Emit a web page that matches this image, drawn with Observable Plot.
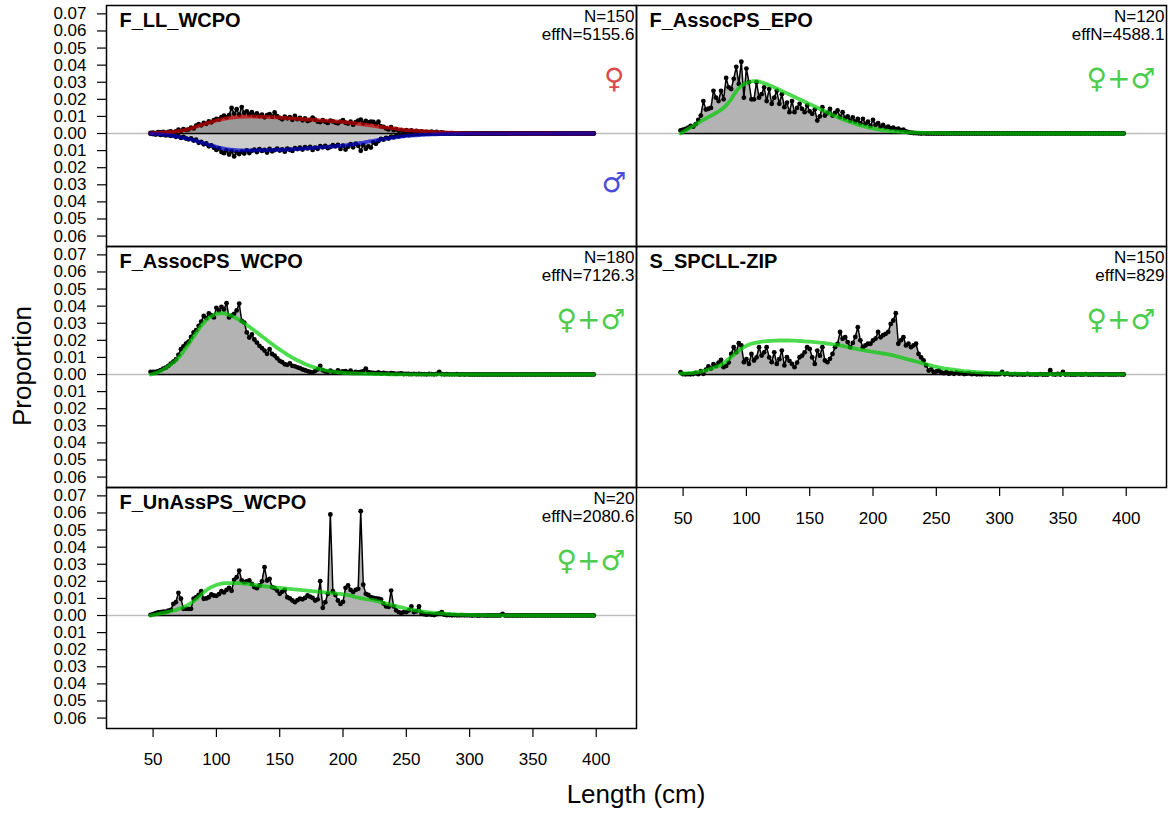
<!DOCTYPE html>
<html><head><meta charset="utf-8">
<script src="https://cdn.jsdelivr.net/npm/d3@7"></script>
<script src="https://cdn.jsdelivr.net/npm/@observablehq/plot@0.6"></script>
<style>
html,body{margin:0;padding:0;background:#fff;}
#wrap{position:relative;width:1172px;height:815px;overflow:hidden;font-family:"Liberation Sans",Arial,sans-serif;}
.pnl{position:absolute;}
.pnl svg{overflow:visible;display:block;}
.axlab{position:absolute;font-size:26px;line-height:1;white-space:nowrap;color:#000;}
</style></head>
<body><div id="wrap"></div>
<script>
// Length bins (cm), 2-cm bins
const bins = d3.range(48, 399, 2);
// All proportions below are in thousandths (per-mille); UNIT converts them.
const UNIT = 0.001;

// ---- F_LL_WCPO : females (up) and males (down)
const llFemObs = [0.3,0.5,0.2,0.8,0.6,1.0,0.4,0.9,1.2,0.7,1.3,2.2,1.5,2.6,2.0,2.4,3.4,3.0,4.6,5.5,4.8,6.2,5.7,7.1,6.6,7.8,
 8.5,8.2,9.6,10.4,9.5, 10.8,15.0,11.5,14.2,10.9, 15.5,12.0,13.0,11.2,12.5, 10.6,11.8,10.2,11.0,9.5, 10.8,11.4,9.8,12.3,10.1,
 9.2,8.3,9.9,8.9,9.6, 8.0,10.3,8.4,9.1,7.7, 8.8,7.3,7.9,9.3,8.1, 7.0,6.7,7.8,6.9,6.2, 7.6,7.1,6.4,6.0,7.0,
 7.8,6.3,5.8,6.9,5.2, 6.6,7.5,8.1,6.0,7.4, 6.5,7.0,6.8,5.5,6.9, 4.2,3.9,3.0,2.4,3.7, 2.0,2.5,1.6,1.9,1.2,
 2.0,1.4,1.8,1.0,1.5, 0.9,1.3,0.8,1.0,0.6, 1.1,0.5,0.9,0.3,0.6, 0.3,0.2,0.1,0.2,0.1, 0.1,0,0.1,0,0,
 0,0,0,0,0,0,0,0,0,0, 0,0,0,0,0,0,0,0,0,0, 0,0,0,0,0,0,0,0,0,0, 0,0,0,0,0,0,0,0,0,0, 0,0,0,0,0,0,0,0,0,0];
const llFemExp = [0.1,0.2,0.3,0.4,0.5,0.6,0.7,0.8,0.9,1.0,1.2,1.4,1.6,1.9,2.2,2.6,3.0,3.5,4.0,4.5,5.0,5.4,5.9,6.4,6.8,7.2,
 7.6,8.0,8.3,8.6,8.9, 9.1,9.3,9.5,9.6,9.7, 9.8,9.9,9.9,9.9,9.9, 9.9,9.8,9.8,9.8,9.7, 9.7,9.6,9.6,9.5,9.4,
 9.3,9.2,9.1,9.0,8.9, 8.8,8.7,8.6,8.5,8.4, 8.3,8.2,8.1,8.0,7.9, 7.8,7.7,7.6,7.5,7.4, 7.3,7.2,7.1,7.0,6.9,
 6.7,6.6,6.4,6.3,6.1, 5.9,5.7,5.5,5.3,5.1, 4.9,4.7,4.5,4.3,4.1, 3.9,3.7,3.5,3.4,3.2, 3.0,2.8,2.6,2.4,2.2,
 2.0,1.9,1.8,1.7,1.6, 1.5,1.4,1.3,1.2,1.1, 1.0,0.9,0.8,0.75,0.7, 0.6,0.55,0.5,0.45,0.4, 0.35,0.3,0.27,0.24,0.2,
 0.18,0.16,0.14,0.12,0.1,0.09,0.08,0.07,0.06,0.05, 0.05,0.04,0.04,0.03,0.03,0.03,0.02,0.02,0.02,0.02,
 0.02,0.01,0.01,0.01,0.01,0.01,0.01,0.01,0.01,0.01, 0.01,0.01,0.01,0.01,0.01,0,0,0,0,0, 0,0,0,0,0,0,0,0,0,0];
const llMalObs = [0.2,0.3,0.6,0.3,0.8,0.5,1.1,0.9,1.4,1.0,1.9,1.5,2.6,2.0,2.9,3.4,2.8,4.1,3.6,5.4,4.9,6.3,5.8,7.5,6.9,8.3,
 9.6,8.7,10.8,11.5,9.9, 12.3,10.4,13.4,11.0,12.0, 10.6,11.7,9.9,11.4,10.1, 9.5,10.8,9.2,10.2,9.6, 11.1,9.0,10.4,9.7,8.9,
 10.0,9.3,10.6,8.8,9.5, 10.2,8.6,9.1,8.2,9.4, 8.0,8.7,7.8,9.6,8.3, 8.9,7.4,8.1,7.2,8.6, 7.9,6.8,7.5,6.6,9.0,
 7.1,9.4,7.7,6.2,8.1, 5.9,7.2,10.1,6.8,8.9, 7.5,8.2,5.2,6.0,4.4, 3.1,3.6,2.5,2.9,1.8, 2.2,1.4,1.7,1.0,1.2,
 0.7,0.9,0.5,0.6,0.3, 0.4,0.2,0.3,0.1,0.1, 0,0.1,0,0,0, 0,0,0,0,0, 0,0,0,0,0,
 0,0,0,0,0,0,0,0,0,0, 0,0,0,0,0,0,0,0,0,0, 0,0,0,0,0,0,0,0,0,0, 0,0,0,0,0,0,0,0,0,0, 0,0,0,0,0,0,0,0,0,0];
const llMalExp = [0.1,0.2,0.3,0.4,0.5,0.7,0.8,1.0,1.2,1.4,1.6,1.9,2.2,2.5,2.8,3.1,3.5,3.9,4.3,4.8,5.2,5.7,6.1,6.6,7.0,7.4,
 7.8,8.2,8.5,8.8,9.1, 9.3,9.5,9.6,9.7,9.8, 9.9,9.9,9.9,9.9,9.9, 9.9,9.8,9.8,9.8,9.7, 9.7,9.7,9.6,9.6,9.6,
 9.5,9.5,9.4,9.4,9.3, 9.2,9.1,9.0,8.9,8.8, 8.7,8.6,8.5,8.4,8.3, 8.2,8.1,8.0,7.9,7.8, 7.7,7.6,7.5,7.3,7.2,
 7.0,6.9,6.7,6.5,6.3, 6.0,5.8,5.5,5.3,5.0, 4.8,4.5,4.3,4.0,3.7, 3.5,3.2,3.0,2.8,2.6, 2.4,2.2,2.0,1.8,1.6,
 1.4,1.3,1.2,1.1,1.0, 0.9,0.8,0.7,0.65,0.6, 0.55,0.5,0.45,0.4,0.35, 0.3,0.27,0.24,0.21,0.18, 0.16,0.14,0.12,0.1,0.09,
 0.08,0.07,0.06,0.05,0.05,0.04,0.04,0.03,0.03,0.03, 0.02,0.02,0.02,0.02,0.02,0.02,0.02,0.02,0.02,0.02,
 0.01,0.01,0.01,0.01,0.01,0.01,0.01,0.01,0.01,0.01, 0.01,0.01,0.01,0.01,0.01,0,0,0,0,0, 0,0,0,0,0,0,0,0,0,0];

// ---- F_AssocPS_EPO
const epoObs = [1.8,2.2,2.7,3.5,4.5,4.0,5.5,8.0,10.5,19.0,14.0,14.5,15.0,25.0,21.0,19.0,25.0,20.0,32.5,27.0,26.0,32.0,39.0,29.0,42.0,21.0,
 38.0,30.0,20.0,20.0,30.0, 21.0,23.0,27.0,19.0,26.0, 17.4,21.0,25.0,17.4,23.0, 15.4,18.0,12.5,19.0,12.5, 15.0,17.4,14.4,12.5,16.4,
 13.0,11.5,14.0,7.6,10.0, 15.4,10.5,12.0,14.4,10.5, 12.0,13.5,9.6,12.5,9.0, 10.0,7.6,9.5,7.0,8.5, 6.0,8.6,5.5,7.0,4.5,
 8.0,5.0,6.0,4.0,5.0, 3.5,4.0,3.0,3.5,2.5, 2.8,2.0,2.2,1.2,0.8, 0.5,0.3,0.2,0.1,0, 0.1,0,0,0,0,
 0,0,0,0,0, 0,0,0,0,0, 0,0,0,0,0, 0,0,0,0,0, 0,0,0,0,0,
 0,0,0,0,0,0,0,0,0,0, 0,0,0,0,0,0,0,0,0,0, 0,0,0,0,0,0,0,0,0,0, 0,0,0,0,0,0,0,0,0,0, 0,0,0,0,0,0,0,0,0,0];
const epoExp = [0.0,1.0,1.8,2.7,3.6,4.5,5.4,6.3,7.2,8.0,8.8,9.6,10.4,11.2,12.0,12.9,13.9,15.0,16.5,18.2,20.0,22.5,24.8,26.6,27.9,28.8,
 29.5,30.0,30.5,30.7,30.6, 30.3,29.9,29.4,28.9,28.3, 27.7,27.0,26.3,25.6,24.9, 24.2,23.5,22.8,22.1,21.4, 20.7,20.0,19.3,18.6,17.9,
 17.2,16.5,15.8,15.1,14.4, 13.7,13.0,12.3,11.6,10.9, 10.3,9.6,9.0,8.4,7.8, 7.2,6.7,6.2,5.7,5.2, 4.8,4.4,4.0,3.6,3.3,
 3.0,2.7,2.4,2.2,2.0, 1.8,1.6,1.4,1.3,1.2, 1.1,1.0,0.9,0.8,0.7, 0.65,0.6,0.55,0.5,0.45, 0.4,0.37,0.34,0.31,0.28,
 0.25,0.23,0.21,0.19,0.17, 0.15,0.14,0.13,0.12,0.11, 0.1,0.09,0.08,0.07,0.07, 0.06,0.06,0.05,0.05,0.04, 0.04,0.04,0.03,0.03,0.03,
 0.02,0.02,0.02,0.02,0.02,0.02,0.02,0.02,0.02,0.02, 0.02,0.02,0.02,0.02,0.02,0.01,0.01,0.01,0.01,0.01,
 0.01,0.01,0.01,0.01,0.01,0.01,0.01,0.01,0.01,0.01, 0.01,0.01,0.01,0.01,0.01,0,0,0,0,0, 0,0,0,0,0,0,0,0,0,0];

// ---- F_AssocPS_WCPO
const wcpoObs = [1.5,1.6,1.6,2.0,2.6,3.4,4.0,5.0,6.4,7.5,8.8,11.5,14.8,16.5,18.0,19.3,22.0,24.6,26.0,28.5,31.0,34.3,33.0,35.7,34.8,33.4,
 39.0,37.5,39.6,38.0,41.7, 33.4,34.5,35.5,37.5,41.5, 31.4,30.4,24.6,21.6,23.4, 20.5,18.7,16.8,15.5,14.0, 12.1,14.8,12.0,11.1,9.5,
 8.0,7.2,6.0,5.7,6.5, 5.1,4.8,4.2,3.7,3.0, 2.5,2.0,1.5,1.2,2.0, 3.0,5.0,2.5,1.8,1.6, 2.2,1.6,1.4,2.4,1.5,
 1.8,1.9,1.3,2.2,1.0, 1.6,1.2,1.5,2.0,3.5, 1.4,1.1,1.0,0.8,1.2, 0.6,0.9,0.7,0.5,0.8, 0.6,0.4,0.5,0.7,0.3,
 0.4,0.3,0.2,0.4,0.2, 0.3,0.2,0.2,0.1,0.3, 0.2,0.1,0.3,1.5,0.2, 0.1,0.2,0.1,0.1,0.1, 0.2,0,0.1,0,0.1,
 0,0,0,0,0,0,0,0,0,0, 0,0,0,0,0,0,0,0,0,0, 0,0,0,0,0,0,0,0,0,0, 0,0,0,0,0,0,0,0,0,0, 0,0,0,0,0,0,0,0,0,0];
const wcpoExp = [0.0,0.4,0.8,1.4,2.1,2.9,3.8,4.8,5.9,7.0,8.3,9.8,11.6,13.6,15.7,17.8,20.0,22.2,24.4,26.5,28.5,30.3,31.8,33.1,34.1,34.9,
 35.5,35.8,35.9,35.8,35.4, 34.9,34.3,33.6,32.8,31.9, 31.0,30.0,29.0,27.9,26.8, 25.7,24.6,23.5,22.3,21.2, 20.0,18.9,17.8,16.7,15.6,
 14.6,13.6,12.6,11.7,10.8, 9.9,9.1,8.3,7.6,6.9, 6.2,5.6,5.0,4.5,4.0, 3.6,3.2,2.8,2.5,2.2, 1.9,1.7,1.5,1.3,1.2,
 1.0,0.9,0.8,0.7,0.65, 0.6,0.55,0.5,0.45,0.4, 0.37,0.34,0.31,0.28,0.25, 0.22,0.2,0.18,0.16,0.14, 0.13,0.12,0.11,0.1,0.09,
 0.08,0.08,0.07,0.07,0.06, 0.06,0.05,0.05,0.05,0.04, 0.04,0.04,0.03,0.03,0.03, 0.03,0.02,0.02,0.02,0.02, 0.02,0.02,0.01,0.01,0.01,
 0.01,0.01,0.01,0.01,0.01,0.01,0.01,0.01,0.01,0.01, 0.01,0.01,0.01,0.01,0.01,0.01,0.01,0.01,0.01,0.01,
 0,0,0,0,0,0,0,0,0,0, 0,0,0,0,0,0,0,0,0,0, 0,0,0,0,0,0,0,0,0,0];

// ---- S_SPCLL-ZIP
const zipObs = [1.4,0.2,0.1,0.2,0.1,0.3,0.9,0.2,2.0,0.4,2.8,4.7,3.5,6.0,5.0,7.0,8.6,4.3,5.0,7.0,12.0,16.0,13.0,18.3,17.0,7.2,
 9.0,6.2,12.0,8.2,10.0, 16.0,11.1,13.0,16.0,10.0, 7.2,13.0,6.2,9.0,14.0, 5.3,10.1,8.0,6.2,4.3, 7.0,10.1,11.1,13.0,16.0,
 15.0,10.0,6.2,14.0,11.0, 16.0,8.2,7.2,9.2,12.0, 16.0,17.9,24.9,20.9,21.8, 19.0,16.0,18.5,22.0,27.7, 20.0,16.0,17.0,18.0,18.0,
 19.9,21.0,24.9,21.8,23.0, 23.8,24.9,29.6,31.6,35.9, 18.0,20.0,21.8,17.0,18.0, 16.0,17.0,18.0,12.0,10.0, 8.2,5.3,2.3,3.0,1.4,
 1.8,2.3,1.2,0.8,1.5, 0.5,1.0,0.4,1.2,0.6, 0.8,0.3,0.5,0.7,0.2, 0.4,0.1,0.2,0.1,0.2, 0.3,0.1,0.2,0.1,0.1,
 0.2,1.5,0.1,0.5,0.1,0,0.2,0,0.1,0, 0,0.3,0,0.1,0,0,0.2,0,0,0, 2.5,0.1,0,0.3,0,1.5,0,0.1,0,0,
 0,0.1,0,0,0.2,0,0,0,0.1,0, 0,0,0.1,0,0,0,0,0.1,0,0];
const zipExp = [0.5,0.6,0.7,0.8,0.9,1.0,1.2,1.4,1.7,2.0,2.4,2.9,3.4,3.9,4.5,5.0,5.6,6.6,7.8,9.1,10.3,11.5,12.7,13.9,15.0,16.0,
 16.8,17.5,18.0,18.4,18.7, 19.0,19.2,19.4,19.5,19.6, 19.7,19.8,19.8,19.9,19.9, 19.9,19.9,19.9,19.8,19.8, 19.7,19.6,19.5,19.4,19.3,
 19.2,19.1,18.9,18.8,18.6, 18.5,18.3,18.1,17.9,17.7, 17.5,17.3,17.0,16.7,16.4, 16.1,15.8,15.5,15.2,14.9, 14.6,14.3,14.0,13.7,13.5,
 13.2,13.0,12.8,12.5,12.3, 12.1,11.8,11.5,11.2,10.8, 10.4,10.0,9.6,9.2,8.8, 8.4,8.0,7.6,7.2,6.8, 6.4,6.0,5.6,5.2,4.8,
 4.5,4.2,3.9,3.6,3.4, 3.2,3.0,2.8,2.6,2.4, 2.2,2.0,1.9,1.8,1.6, 1.5,1.4,1.3,1.2,1.1, 1.0,0.95,0.9,0.85,0.8,
 0.75,0.7,0.65,0.6,0.55,0.5,0.5,0.45,0.45,0.4, 0.4,0.35,0.35,0.3,0.3,0.3,0.25,0.25,0.25,0.2,
 0.2,0.2,0.2,0.2,0.2,0.2,0.2,0.2,0.2,0.2, 0.2,0.2,0.15,0.15,0.15,0.15,0.15,0.1,0.1,0.1, 0.1,0.1,0.1,0.1,0.1,0.1,0.1,0.1,0.1,0.1];

// ---- F_UnAssPS_WCPO
const unaObs = [0.4,0.8,1.4,1.8,2.0,2.2,2.3,2.8,3.3,6.8,7.8,13.3,9.8,3.9,3.9,3.9,3.9,9.8,10.7,12.0,14.2,9.8,10.0,10.7,12.3,11.7,
 11.5,12.5,14.2,13.5,15.0, 16.2,14.5,20.9,22.4,26.3, 20.5,19.5,20.0,20.5,18.5, 16.6,16.0,17.6,20.0,28.3, 20.5,21.4,16.6,16.0,14.6,
 12.7,14.0,15.0,10.7,10.0, 8.8,7.8,9.0,9.8,9.5, 10.3,11.7,11.0,10.3,8.8, 9.5,20.1,4.5,7.8,12.7, 59.1,14.2,12.0,8.8,6.8,
 8.0,16.2,17.6,15.0,13.7, 15.0,15.6,61.0,18.0,12.7, 12.0,10.7,10.3,10.0,9.8, 9.5,7.0,5.3,5.0,14.6, 5.3,3.0,2.0,1.5,2.0,
 2.0,3.0,5.3,2.0,2.5, 5.3,1.5,0.8,0.5,0.8, 0.5,0.3,0.8,1.2,2.0, 0.5,0.2,0.3,0.1,0.2, 0.1,0.1,0.2,0.1,0.1,
 0.1,0,0.1,0,0,0.1,0,0,0,0, 0,0,0,1.0,0,0,0,0,0,0, 0,0,0,0,0,0,0,0,0,0, 0,0,0,0,0,0,0,0,0,0, 0,0,0,0,0,0,0,0,0,0];
const unaExp = [0.0,0.3,0.6,0.9,1.2,1.5,1.8,2.1,2.5,2.9,3.3,3.8,4.3,4.9,5.6,6.4,7.3,8.4,9.6,10.9,12.2,13.5,14.8,15.8,16.6,17.3,
 17.9,18.3,18.7,18.9,19.0, 19.0,19.0,19.0,18.9,18.9, 18.8,18.7,18.5,18.3,18.1, 17.9,17.7,17.5,17.3,17.1, 16.9,16.8,16.6,16.5,16.3,
 16.2,16.0,15.9,15.7,15.6, 15.4,15.3,15.1,15.0,14.8, 14.7,14.5,14.4,14.2,14.1, 14.0,13.8,13.7,13.5,13.4, 13.2,13.1,12.9,12.8,12.6,
 12.4,12.2,11.9,11.6,11.2, 10.8,10.5,10.2,9.9,9.6, 9.4,9.2,9.0,8.6,8.2, 7.8,7.4,7.0,6.6,6.2, 5.8,5.5,5.1,4.8,4.4,
 4.1,3.8,3.5,3.2,2.9, 2.7,2.4,2.2,2.0,1.8, 1.7,1.5,1.4,1.3,1.2, 1.1,1.0,0.9,0.8,0.7, 0.6,0.55,0.5,0.45,0.4,
 0.35,0.3,0.27,0.24,0.21,0.18,0.16,0.14,0.12,0.1, 0.09,0.08,0.07,0.06,0.05,0.05,0.04,0.04,0.03,0.03,
 0.03,0.02,0.02,0.02,0.02,0.02,0.02,0.02,0.02,0.02, 0.02,0.02,0.02,0.02,0.02,0.01,0.01,0.01,0.01,0.01, 0.01,0.01,0.01,0.01,0.01,0.01,0.01,0.01,0.01,0.01];

const yTicks = [-0.06,-0.05,-0.04,-0.03,-0.02,-0.01,0,0.01,0.02,0.03,0.04,0.05,0.06,0.07];
const xTicks = [50,100,150,200,250,300,350,400];

const GREEN = "rgba(0,204,0,0.7)", RED = "rgba(204,0,0,0.7)", BLUE = "rgba(0,0,204,0.7)";
const SYM_GREEN = "#4dcc4d", SYM_RED = "#db4d4d", SYM_BLUE = "#4d4ddb";

const panels = [
 {title:"F_LL_WCPO", N:150, effN:"5155.6", col:0, row:0, yAxis:true, xAxis:false,
  series:[{obs:llFemObs, exp:llFemExp, sign:1, fill:"#999999", line:RED},
          {obs:llMalObs, exp:llMalExp, sign:-1, fill:"#cccccc", line:BLUE}],
  symbols:[{t:"\u2640", c:SYM_RED, dx:-12, dy:74}, {t:"\u2642", c:SYM_BLUE, dx:-10, dy:178}]},
 {title:"F_AssocPS_EPO", N:120, effN:"4588.1", col:1, row:0, yAxis:false, xAxis:false,
  series:[{obs:epoObs, exp:epoExp, sign:1, fill:"#b3b3b3", line:GREEN}],
  symbols:[{t:"\u2640+\u2642", c:SYM_GREEN, dx:-11, dy:74}]},
 {title:"F_AssocPS_WCPO", N:180, effN:"7126.3", col:0, row:1, yAxis:true, xAxis:false,
  series:[{obs:wcpoObs, exp:wcpoExp, sign:1, fill:"#b3b3b3", line:GREEN}],
  symbols:[{t:"\u2640+\u2642", c:SYM_GREEN, dx:-11, dy:74}]},
 {title:"S_SPCLL-ZIP", N:150, effN:"829", col:1, row:1, yAxis:false, xAxis:true,
  series:[{obs:zipObs, exp:zipExp, sign:1, fill:"#b3b3b3", line:GREEN}],
  symbols:[{t:"\u2640+\u2642", c:SYM_GREEN, dx:-11, dy:74}]},
 {title:"F_UnAssPS_WCPO", N:20, effN:"2080.6", col:0, row:2, yAxis:true, xAxis:true,
  series:[{obs:unaObs, exp:unaExp, sign:1, fill:"#b3b3b3", line:GREEN}],
  symbols:[{t:"\u2640+\u2642", c:SYM_GREEN, dx:-11, dy:74}]}
];

const COL_LEFT = [106, 636], ROW_TOP = [5, 246, 487], PW = 530, PH = 241;
const XDOM = [13.2, 431.8], YDOM = [-0.0661, 0.0749];
const wrap = document.getElementById("wrap");

for (const p of panels) {
  const mL = p.yAxis ? 106 : 2, mR = 2, mT = 2, mB = p.xAxis ? 50 : 2;
  const marks = [];
  const tables = p.series.map(s => bins.map((L, i) => ({L, obs: s.sign * s.obs[i] * UNIT, exp: s.sign * s.exp[i] * UNIT})));
  p.series.forEach((s, k) => marks.push(Plot.areaY(tables[k], {x: "L", y: "obs", fill: s.fill})));
  marks.push(Plot.ruleY([0], {stroke: "#bebebe", strokeWidth: 1.5}));
  marks.push(Plot.ruleY([0], {x1: bins[0], x2: bins[bins.length - 1], stroke: "black", strokeWidth: 1.3}));
  p.series.forEach((s, k) => {
    marks.push(Plot.line(tables[k], {x: "L", y: "obs", stroke: "black", strokeWidth: 1.5}));
    marks.push(Plot.dot(tables[k], {x: "L", y: "obs", r: 2.4, fill: "black"}));
  });
  p.series.forEach((s, k) => marks.push(Plot.line(tables[k], {x: "L", y: "exp", stroke: s.line, strokeWidth: 3.8})));
  marks.push(Plot.frame({stroke: "black", strokeWidth: 1.5}));
  if (p.yAxis) marks.push(Plot.axisY(yTicks, {tickSize: 9, tickPadding: 11, tickFormat: d => Math.abs(d).toFixed(2), fontSize: 17, label: null, strokeWidth: 1.2}));
  if (p.xAxis) marks.push(Plot.axisX(xTicks, {tickSize: 9, tickPadding: 15, tickFormat: d => String(d), fontSize: 17, label: null, strokeWidth: 1.2}));
  marks.push(Plot.text([p.title], {frameAnchor: "top-left", dx: 13, dy: 7, lineAnchor: "top", textAnchor: "start", fontSize: 20, fontWeight: "bold", fill: "black"}));
  marks.push(Plot.text(["N=" + p.N], {frameAnchor: "top-right", dx: -2, dy: 4.5, lineAnchor: "top", textAnchor: "end", fontSize: 17, fill: "black"}));
  marks.push(Plot.text(["effN=" + p.effN], {frameAnchor: "top-right", dx: -2, dy: 22.4, lineAnchor: "top", textAnchor: "end", fontSize: 17, fill: "black"}));
  for (const s of p.symbols) {
    marks.push(Plot.text([s.t], {frameAnchor: "top-right", dx: s.dx, dy: s.dy, lineAnchor: "middle", textAnchor: "end", fontSize: 28, fill: s.c, fontFamily: "DejaVu Sans"}));
  }
  const chart = Plot.plot({
    width: PW + mL + mR, height: PH + mT + mB,
    marginLeft: mL, marginRight: mR, marginTop: mT, marginBottom: mB,
    x: {domain: XDOM, ...(p.xAxis ? {} : {axis: null})},
    y: {domain: YDOM, ...(p.yAxis ? {} : {axis: null})},
    style: {fontFamily: "Liberation Sans, Arial, sans-serif", fontSize: "17px", color: "black", background: "transparent", overflow: "visible"},
    marks
  });
  const div = document.createElement("div");
  div.className = "pnl";
  div.style.left = (COL_LEFT[p.col] - mL) + "px";
  div.style.top = (ROW_TOP[p.row] - mT) + "px";
  div.appendChild(chart);
  wrap.appendChild(div);
}

const xl = document.createElement("div");
xl.className = "axlab";
xl.textContent = "Length (cm)";
xl.style.left = "636px"; xl.style.top = "794px";
xl.style.transform = "translate(-50%,-50%)";
wrap.appendChild(xl);

const yl = document.createElement("div");
yl.className = "axlab";
yl.textContent = "Proportion";
yl.style.left = "22px"; yl.style.top = "366px";
yl.style.transform = "translate(-50%,-50%) rotate(-90deg)";
wrap.appendChild(yl);
</script>
</body></html>
